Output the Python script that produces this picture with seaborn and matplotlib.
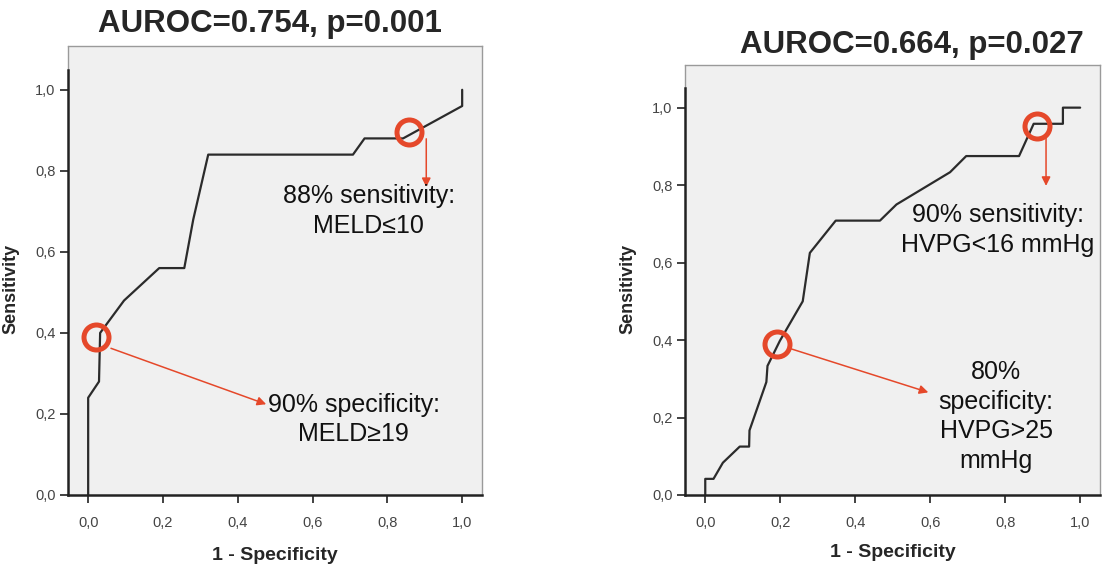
import pandas as pd
import matplotlib
matplotlib.use("Agg")
import matplotlib.pyplot as plt
import seaborn as sns

# ROC curve for MELD (1 - specificity, sensitivity)
meld_fpr = [0.0, 0.0, 0.029, 0.032, 0.096, 0.19, 0.257, 0.281, 0.321, 0.708, 0.739, 0.842, 1.0, 1.0]
meld_tpr = [0.0, 0.24, 0.28, 0.40, 0.48, 0.56, 0.56, 0.68, 0.84, 0.84, 0.88, 0.88, 0.96, 1.0]

# ROC curve for HVPG
hvpg_fpr = [0.0, 0.0, 0.022, 0.047, 0.092, 0.117, 0.118, 0.163, 0.166, 0.199, 0.26, 0.279,
            0.348, 0.466, 0.51, 0.653, 0.696, 0.837, 0.876, 0.954, 0.954, 1.0]
hvpg_tpr = [0.0, 1/24, 1/24, 2/24, 3/24, 3/24, 4/24, 7/24, 8/24, 0.398, 12/24, 15/24,
            17/24, 17/24, 18/24, 20/24, 21/24, 21/24, 23/24, 23/24, 1.0, 1.0]

titles = ["AUROC=0.754, p=0.001", "AUROC=0.664, p=0.027"]
tick_vals = [0.0, 0.2, 0.4, 0.6, 0.8, 1.0]
tick_labels = ["0,0", "0,2", "0,4", "0,6", "0,8", "1,0"]

# cut-off points highlighted on each curve
meld_points = [(0.022, 0.391), (0.857, 0.897)]
hvpg_points = [(0.192, 0.39), (0.885, 0.953)]

sns.set_style("white")
plt.rcParams["font.family"] = ["Liberation Sans", "DejaVu Sans"]

RED = "#E5482A"
fig = plt.figure(figsize=(11.07, 5.71), dpi=100)
ax1 = fig.add_axes([0.0614, 0.1331, 0.374, 0.7863])
ax2 = fig.add_axes([0.6188, 0.1331, 0.3749, 0.7530])

curves = [(ax1, meld_fpr, meld_tpr, 1.108), (ax2, hvpg_fpr, hvpg_tpr, 1.11)]
for i, (ax, fpr, tpr, ytop) in enumerate(curves):
    df = pd.DataFrame({"fpr": fpr, "tpr": tpr})
    sns.lineplot(data=df, x="fpr", y="tpr", sort=False, estimator=None,
                 color="#2b2b2b", lw=1.6, ax=ax)
    ax.set_facecolor("#F0F0F0")
    ax.set_xlim(-0.054, 1.053)
    ax.set_ylim(0, ytop)
    ax.set_xticks(tick_vals)
    ax.set_xticklabels(tick_labels)
    ax.set_yticks(tick_vals)
    ax.set_yticklabels(tick_labels)
    ax.tick_params(axis="both", direction="out", length=6, width=1.3, color="#333333",
                   labelsize=10.5, labelcolor="#444444", left=True, bottom=True)
    ax.tick_params(axis="x", pad=9)
    ax.tick_params(axis="y", pad=3)
    for s in ["top", "right"]:
        ax.spines[s].set_color("#9a9a9a")
        ax.spines[s].set_linewidth(1.0)
    for s in ["left", "bottom"]:
        ax.spines[s].set_color("#222222")
        ax.spines[s].set_linewidth(1.8)
    ax.spines["left"].set_bounds(0, 1.05)
    ax.axvline(ax.get_xlim()[0], ymin=1.05 / ytop, ymax=1, color="#9a9a9a", lw=1.0, clip_on=False)
    ax.set_xlabel("1 - Specificity", fontsize=14, fontweight="bold")
    ax.set_ylabel("Sensitivity", fontsize=13, fontweight="bold")
    ax.xaxis.set_label_coords(0.5, -0.115)

ax1.yaxis.set_label_coords(-0.118, 0.46)
ax2.yaxis.set_label_coords(-0.118, 0.48)
ax1.text(0.488, 1.048, titles[0], transform=ax1.transAxes, ha="center", va="center",
         fontsize=22.5, fontweight="bold")
ax2.text(0.547, 1.047, titles[1], transform=ax2.transAxes, ha="center", va="center",
         fontsize=22.5, fontweight="bold")

# highlighted cut-offs
for ax, pts in [(ax1, meld_points), (ax2, hvpg_points)]:
    px, py = zip(*pts)
    ax.plot(px, py, ls="none", marker="o", ms=18, mfc="none", mec=RED, mew=3.6, zorder=5)

arrow = dict(arrowstyle="-|>", color=RED, lw=1.1, mutation_scale=13, shrinkA=0, shrinkB=0)
ax1.annotate("", xy=(0.476, 0.224), xytext=(0.061, 0.362), arrowprops=arrow)
ax1.annotate("", xy=(0.904, 0.76), xytext=(0.904, 0.879), arrowprops=arrow)
ax2.annotate("", xy=(0.595, 0.265), xytext=(0.23, 0.377), arrowprops=arrow)
ax2.annotate("", xy=(0.909, 0.798), xytext=(0.909, 0.923), arrowprops=arrow)

kw = dict(ha="center", va="center", fontsize=18, linespacing=1.3, color="#111111")
ax1.text(0.75, 0.70, "88% sensitivity:\nMELD\u226410", **kw)
ax1.text(0.71, 0.186, "90% specificity:\nMELD\u226519", **kw)
ax2.text(0.78, 0.685, "90% sensitivity:\nHVPG<16 mmHg", clip_on=False, **kw)
ax2.text(0.776, 0.203, "80%\nspecificity:\nHVPG>25\nmmHg", **kw)

plt.savefig("out.png", dpi=100)
